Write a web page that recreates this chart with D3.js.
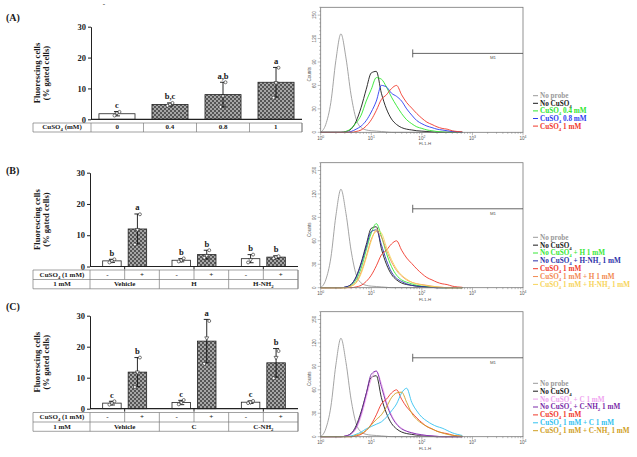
<!DOCTYPE html>
<html><head><meta charset="utf-8">
<script src="https://cdn.jsdelivr.net/npm/d3@7/dist/d3.min.js"></script>
<style>body{margin:0;background:#fff}svg{display:block}</style>
</head><body><svg id="c" width="637" height="457"></svg>
<script>
// ---------------- DATA ----------------
// Panel A bars
const doseA = ["0","0.4","0.8","1"];
const meanA = [1.8,4.8,8.0,12.0];
const sdA = [0.7,0.5,4.0,4.8];
const repA = [[1.2,2.0,2.4],[4.4,4.8,5.3],[4.0,7.5,12.0],[7.0,11.8,16.7]];
const letA = ["c","b,c","a,b","a"];
// Panel B bars (order: Vehicle -, Vehicle +, H -, H +, H-NH2 -, H-NH2 +)
const cuSigns = ["-","+"];
const compB = ["Vehicle","H","H-NH₂"];
const meanB = [1.8,12.0,2.0,3.8,2.5,3.0];
const sdB = [0.5,4.8,0.5,1.4,1.3,0.4];
const repB = [[1.3,1.8,2.3],[7.0,11.8,16.7],[1.6,2.0,2.6],[2.8,3.5,5.2],[1.3,2.2,3.8],[2.6,3.0,3.3]];
const letB = ["b","a","b","b","b","b"];
// Panel C bars
const compC = ["Vehicle","C","C-NH₂"];
const meanC = [1.8,11.8,2.0,21.8,2.1,14.8];
const sdC = [0.6,4.7,0.7,7.0,0.4,4.6];
const repC = [[1.3,1.8,2.4],[7.0,11.8,16.5],[1.4,2.0,2.8],[14.5,22.8,28.3],[1.8,2.1,2.5],[9.8,16.5,18.6]];
const letC = ["c","b","c","a","c","b"];
const yTicksBar = [0,10,20,30];

// Flow cytometry histograms: counts at FL1-H = 10^decade
const fl1Decades = [0,0.1,0.2,0.3,0.4,0.5,0.6,0.7,0.8,0.9,1.0,1.1,1.2,1.3,1.4,1.5,1.6,1.7,1.8,1.9,2.0,2.1,2.2,2.3,2.4,2.5,2.6,2.7,2.8];
const noProbe  = [0,10,38,92,126,95,48,17,6,3,2,1.5,1,0.5,0,0,0,0,0,0,0,0,0,0,0,0,0,0,0];
const noCu     = [0,0,0,0,0,1,4,14,32,55,76,78,50,30,17,10,6,4,3,2,1.5,1,0.5,0,0,0,0,0,0];
const cu04     = [0,0,0,0,0,1,5,12,22,40,55,70,68,58,45,34,24,16,11,7,5,3,2,1,0.5,0,0,0,0];
const cu08     = [0,0,0,0,0,0,1,4,8,15,26,40,60,58,50,46,40,30,22,15,11,8,6,4,3,2,1,0.5,0];
const cu1      = [0,0,0,0,0,0,0,1,3,8,16,28,42,48,56,60,48,38,31,24,18,13,10,7,5,4,2,1,0.5];
const noCuH    = [0,0,0,0,0,0,3,10,25,48,70,82,66,44,27,16,10,7,5,3,2,1.5,1,0.5,0,0,0,0,0];
const noCuHNH2 = [0,0,0,0,0,1,4,13,30,52,72,74,55,35,20,12,8,5,3,2,1.5,1,0.5,0,0,0,0,0,0];
const cuH      = [0,0,0,0,0,0,2,7,20,40,62,72,65,48,33,22,15,10,7,5,4,3,2,1,0.5,0,0,0,0];
const cuHNH2   = [0,0,0,0,0,0,2,6,18,38,60,74,70,52,36,24,16,11,7,5,3.5,2.5,1.5,1,0.5,0,0,0,0];
const noCuC    = [0,0,0,0,0,1,3,10,26,50,74,84,68,45,28,17,11,7,5,3,2,1.5,1,0.5,0,0,0,0,0];
const noCuCNH2 = [0,0,0,0,0,1,4,12,30,55,80,84,64,42,26,16,10,7,5,3.5,2.5,1.5,1,0.5,0,0,0,0,0];
const cuC      = [0,0,0,0,0,0,1,3,6,10,13,16,19,25,33,42,56,62,44,33,25,20,16,13,11,8,5,3,1.5];
const cuCNH2   = [0,0,0,0,0,0,0,2,4,8,15,22,28,38,50,56,57,44,30,22,17,13,10,7,5,3,2,1,0.5];
const countTicks = [0,30,60,90,120,150];
const decadeTicks = [0,1,2,3,4];
const m1Start = 66;      // FL1-H where the M1 gate begins
const m1Count = 101;     // height of the M1 marker (counts)

const legendA = ["No probe","No CuSO₄","CuSO₄ 0.4 mM","CuSO₄ 0.8 mM","CuSO₄ 1 mM"];
const seriesA = [noProbe,noCu,cu04,cu08,cu1];
const legendB = ["No probe","No CuSO₄","No CuSO₄ + H 1 mM","No CuSO₄ + H-NH₂ 1 mM","CuSO₄ 1 mM","CuSO₄ 1 mM + H 1 mM","CuSO₄ 1 mM + H-NH₂ 1 mM"];
const seriesB = [noProbe,noCu,noCuH,noCuHNH2,cu1,cuH,cuHNH2];
const legendC = ["No probe","No CuSO₄","No CuSO₄ + C 1 mM","No CuSO₄ + C-NH₂ 1 mM","CuSO₄ 1 mM","CuSO₄ 1 mM + C 1 mM","CuSO₄ 1 mM + C-NH₂ 1 mM"];
const seriesC = [noProbe,noCu,noCuC,noCuCNH2,cu1,cuC,cuCNH2];

// ---------------- STYLE ----------------
const colA = ["#9a9a9a","#1a1a1a","#2ee62e","#2b3cf0","#f0382a"];
const colB = ["#9a9a9a","#1a1a1a","#38e838","#2a2fa8","#f0382a","#f28a52","#f7d45a"];
const colC = ["#9a9a9a","#1a1a1a","#f0a4f0","#7a2aa8","#f0382a","#33c2f0","#cf9e22"];
const serif = "'Liberation Serif','Times New Roman',serif";
const sans = "'Liberation Sans',Arial,sans-serif";

const svg = d3.select("#c");
svg.append("rect").attr("width",637).attr("height",457).attr("fill","#fff");
const defs = svg.append("defs");
const pat = defs.append("pattern").attr("id","hatch").attr("width",4).attr("height",4).attr("patternUnits","userSpaceOnUse");
pat.append("rect").attr("width",4).attr("height",4).attr("fill","#a6a6a6");
pat.append("rect").attr("width",2).attr("height",2).attr("fill","#555");
pat.append("rect").attr("x",2).attr("y",2).attr("width",2).attr("height",2).attr("fill","#555");

const subMap = {"₂":"2","₄":"4"};
// writes a label, drawing subscript digits as lowered small tspans
function fillText(t, s, size) {
  const runs = [];
  for (const ch of String(s)) {
    const sub = ch in subMap;
    if (runs.length && runs[runs.length-1].sub===sub) runs[runs.length-1].t += sub?subMap[ch]:ch;
    else runs.push({sub, t: sub?subMap[ch]:ch});
  }
  let shift = 0;
  runs.forEach(r=>{
    const ts = t.append("tspan").text(r.t);
    if (r.sub) { ts.attr("font-size",size*0.68).attr("dy",size*0.28-shift); shift = size*0.28; }
    else if (shift) { ts.attr("dy",-shift); shift = 0; }
  });
  return t;
}
function txt(g, x, y, s, size, opts={}) {
  const t = g.append("text").attr("x",x).attr("y",y)
    .attr("font-family",opts.family||serif).attr("font-weight",opts.weight||"bold")
    .attr("font-size",size).attr("fill",opts.fill||"#1a1a1a")
    .attr("text-anchor",opts.anchor||"middle");
  return fillText(t, s, size);
}

// ---------------- BAR PANELS ----------------
function barPanel(P) {
  const g = svg.append("g");
  const y = d3.scaleLinear().domain([0,30]).range([P.yBottom, P.yTop]);
  const n = P.means.length;
  for (let i=0;i<n;i++) {
    const cx = P.cx(i), m = P.means[i], s = P.sds[i];
    g.append("rect").attr("x",cx-P.bw/2).attr("y",y(m)).attr("width",P.bw).attr("height",y(0)-y(m))
      .attr("fill",P.hatched(i)?"url(#hatch)":"#fff").attr("stroke","#222").attr("stroke-width",0.8);
    g.append("line").attr("x1",cx).attr("x2",cx).attr("y1",y(m-s)).attr("y2",y(m+s)).attr("stroke","#111").attr("stroke-width",0.9);
    [m-s,m+s].forEach(v=>g.append("line").attr("x1",cx-3).attr("x2",cx+3).attr("y1",y(v)).attr("y2",y(v)).attr("stroke","#111").attr("stroke-width",0.9));
    const syms=[d3.symbolCircle,d3.symbolTriangle,d3.symbolCircle];
    P.reps[i].forEach((v,k)=>{
      g.append("path").attr("d",d3.symbol(syms[k],7)())
        .attr("transform",`translate(${cx+(k-1)*2.5},${y(v)})${k===1?" rotate(180)":""}`)
        .attr("fill","#fff").attr("stroke","#222").attr("stroke-width",0.6);
    });
    txt(g,cx,y(Math.max(m+s,d3.max(P.reps[i])))-3.5,P.letters[i],8.5);
  }
  const ax = g.append("g").attr("transform",`translate(${P.axisX},0)`)
    .call(d3.axisLeft(y).tickValues(yTicksBar).tickSize(3).tickSizeOuter(0).tickPadding(2));
  ax.select(".domain").attr("stroke","#222").attr("stroke-width",1);
  ax.selectAll(".tick line").attr("stroke","#222");
  ax.selectAll("text").attr("font-family",serif).attr("font-weight","bold").attr("font-size",8.5).attr("fill","#222");
  g.append("line").attr("x1",P.axisX).attr("x2",P.axisEnd).attr("y1",y(0)).attr("y2",y(0)).attr("stroke","#222").attr("stroke-width",1.2);
  (P.groupTicks||[]).forEach(t=>g.append("line").attr("x1",t).attr("x2",t).attr("y1",y(0)).attr("y2",y(0)+3).attr("stroke","#222"));
  const ly = (P.yTop+P.yBottom)/2;
  g.append("text").attr("transform",`translate(40,${ly}) rotate(-90)`).text("Fluorescing cells")
    .attr("font-family",serif).attr("font-weight","bold").attr("font-size",8.6).attr("text-anchor","middle").attr("fill","#1a1a1a");
  g.append("text").attr("transform",`translate(48.5,${ly}) rotate(-90)`).text("(% gated cells)")
    .attr("font-family",serif).attr("font-weight","bold").attr("font-size",8.6).attr("text-anchor","middle").attr("fill","#1a1a1a");
  txt(g,6,P.labelY,P.label,10,{anchor:"start"});
  const tg = g.append("g");
  const line=(x1,y1,x2,y2)=>tg.append("line").attr("x1",x1).attr("y1",y1).attr("x2",x2).attr("y2",y2).attr("stroke","#7a7a7a").attr("stroke-width",0.7);
  const rows = P.rows;
  const tTop = rows[0].y0, tBot = rows[rows.length-1].y1;
  line(33,tTop,P.axisEnd,tTop); line(33,tBot,P.axisEnd,tBot);
  line(33,tTop,33,tBot); line(P.axisEnd,tTop,P.axisEnd,tBot);
  rows.forEach((r,ri)=>{
    if (ri>0) line(33,r.y0,P.axisEnd,r.y0);
    line(P.axisX,r.y0,P.axisX,r.y1);
    txt(tg,62,r.y1-2.6,r.head,7);
    r.cells.forEach(c=>{
      line(c.x1,r.y0,c.x1,r.y1);
      txt(tg,(c.x0+c.x1)/2,r.y1-2.6,c.t,7);
    });
  });
}

const xA = d3.scaleBand().domain(doseA).range([91,302]).paddingInner(0.32).paddingOuter(0.15);
const edgesA = [91, ...doseA.slice(0,-1).map((d,i)=>(xA(d)+xA(doseA[i+1]))/2+xA.bandwidth()/2), 302];
barPanel({
  means:meanA, sds:sdA, reps:repA, letters:letA,
  cx:i=>xA(doseA[i])+xA.bandwidth()/2, bw:xA.bandwidth(),
  hatched:i=>doseA[i]!=="0",
  yBottom:119.3, yTop:26.7, axisX:91, axisEnd:302,
  label:"(A)", labelY:21,
  rows:[{y0:123,y1:132,head:"CuSO₄ (mM)",cells:doseA.map((d,i)=>({x0:edgesA[i],x1:edgesA[i+1],t:d}))}]
});

function groupedLayout(comps) {
  const gx = d3.scaleBand().domain(comps).range([90,298]);
  const sx = d3.scaleBand().domain(cuSigns).range([0,gx.bandwidth()]).paddingInner(0.2745).paddingOuter(0.497);
  return {gx,sx,
    cx:i=>gx(comps[Math.floor(i/2)])+sx(cuSigns[i%2])+sx.bandwidth()/2,
    bw:sx.bandwidth(),
    ticks:comps.map(c=>gx(c)+gx.bandwidth()/2)};
}
function groupedRows(comps, L, y0) {
  const half = L.gx.bandwidth()/2;
  return [
    {y0:y0,y1:y0+9.5,head:"CuSO₄ (1 mM)",cells:comps.flatMap(c=>cuSigns.map((s,k)=>({x0:L.gx(c)+k*half,x1:L.gx(c)+(k+1)*half,t:s})))},
    {y0:y0+9.5,y1:y0+18.8,head:"1 mM",cells:comps.map(c=>({x0:L.gx(c),x1:L.gx(c)+L.gx.bandwidth(),t:c}))}
  ];
}
const LB = groupedLayout(compB);
barPanel({
  means:meanB, sds:sdB, reps:repB, letters:letB,
  cx:LB.cx, bw:LB.bw, hatched:i=>cuSigns[i%2]==="+",
  yBottom:266.5, yTop:172.7, axisX:90, axisEnd:298, groupTicks:LB.ticks,
  label:"(B)", labelY:173.5,
  rows:groupedRows(compB,LB,270)
});
const LC = groupedLayout(compC);
barPanel({
  means:meanC, sds:sdC, reps:repC, letters:letC,
  cx:LC.cx, bw:LC.bw, hatched:i=>cuSigns[i%2]==="+",
  yBottom:408.7, yTop:315.7, axisX:90, axisEnd:298, groupTicks:LC.ticks,
  label:"(C)", labelY:309.5,
  rows:groupedRows(compC,LC,412.5)
});
txt(svg,104,6,"-",7);

// ---------------- HISTOGRAMS ----------------
function histPanel(P) {
  const g = svg.append("g");
  const L=320.7, R=523;
  const x = d3.scaleLog().domain([1,1e4]).range([L,R]);
  const y = d3.scaleLinear().domain([0,160]).range([P.bottom,P.bottom-125]);
  const top = y(160);
  const ln = d3.line().x((v,i)=>x(Math.pow(10,fl1Decades[i]))).y(v=>y(v)).curve(d3.curveMonotoneX);
  P.series.forEach((s,k)=>{
    g.append("path").attr("d",ln(s)).attr("fill","none").attr("stroke",P.colors[k]).attr("stroke-width",0.9);
  });
  g.append("rect").attr("x",L).attr("y",top).attr("width",R-L).attr("height",P.bottom-top)
    .attr("fill","none").attr("stroke","#777").attr("stroke-width",0.8);
  d3.range(0,161,5).forEach(v=>{
    const major = countTicks.includes(v);
    g.append("line").attr("x1",L-(major?3:1.5)).attr("x2",L).attr("y1",y(v)).attr("y2",y(v)).attr("stroke","#777").attr("stroke-width",0.5);
  });
  countTicks.forEach(v=>{
    g.append("text").attr("transform",`translate(315.8,${y(v)}) rotate(-90)`).text(v)
      .attr("font-family",sans).attr("font-size",4.6).attr("text-anchor","middle").attr("fill","#555");
  });
  g.append("text").attr("transform",`translate(311.3,${P.bottom-58}) rotate(-90)`).text("Counts")
    .attr("font-family",sans).attr("font-size",4.6).attr("text-anchor","middle").attr("fill","#555");
  decadeTicks.forEach(d=>{
    g.append("line").attr("x1",x(Math.pow(10,d))).attr("x2",x(Math.pow(10,d))).attr("y1",P.bottom).attr("y2",P.bottom+3).attr("stroke","#777").attr("stroke-width",0.5);
    if (d<4) d3.range(2,10).forEach(m=>{
      const xv = x(m*Math.pow(10,d));
      g.append("line").attr("x1",xv).attr("x2",xv).attr("y1",P.bottom).attr("y2",P.bottom+1.5).attr("stroke","#777").attr("stroke-width",0.5);
    });
    const t = g.append("text").attr("x",x(Math.pow(10,d))).attr("y",P.bottom+7.5)
      .attr("font-family",sans).attr("font-size",4.6).attr("text-anchor","middle").attr("fill","#555");
    t.append("tspan").text("10");
    t.append("tspan").text(d).attr("font-size",3.4).attr("dy",-2);
  });
  g.append("text").attr("x",425).attr("y",P.bottom+13).text("FL1-H")
    .attr("font-family",sans).attr("font-size",4.4).attr("text-anchor","middle").attr("fill","#555");
  const mx = x(m1Start), my = y(m1Count);
  g.append("line").attr("x1",mx).attr("x2",R).attr("y1",my).attr("y2",my).attr("stroke","#555").attr("stroke-width",0.9);
  g.append("line").attr("x1",mx).attr("x2",mx).attr("y1",my-4).attr("y2",my+4).attr("stroke","#555").attr("stroke-width",0.9);
  g.append("text").attr("x",493).attr("y",my+6).text("M1")
    .attr("font-family",sans).attr("font-size",4.4).attr("text-anchor","middle").attr("fill","#555");
  P.legend.forEach((name,k)=>{
    const ly = P.legY + k*P.legStep;
    g.append("line").attr("x1",533).attr("x2",538).attr("y1",ly).attr("y2",ly).attr("stroke",P.colors[k]).attr("stroke-width",1);
    txt(g,540,ly+2.4,name,7.2,{anchor:"start",fill:P.colors[k]});
  });
}
histPanel({bottom:132.3, series:seriesA, colors:colA, legend:legendA, legY:95.7, legStep:7.6});
histPanel({bottom:287.7, series:seriesB, colors:colB, legend:legendB, legY:237.3, legStep:7.85});
histPanel({bottom:436.7, series:seriesC, colors:colC, legend:legendC, legY:383.3, legStep:7.9});
</script></body></html>
